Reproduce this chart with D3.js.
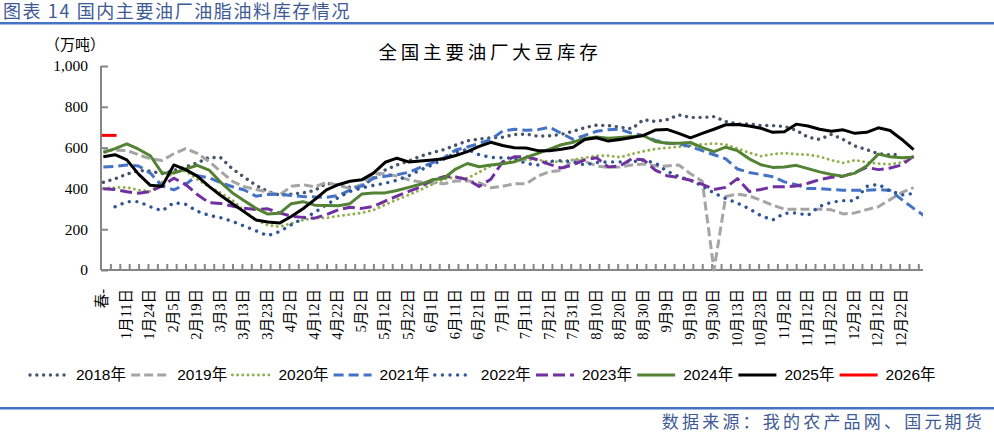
<!DOCTYPE html>
<html>
<head>
<meta charset="utf-8">
<script src="https://cdn.jsdelivr.net/npm/d3@7"></script>
<style>
  body { margin: 0; background: #fff; }
  svg { display: block; }
</style>
</head>
<body>
<script>
// x labels, one every 5 category slots
var categories = ["春-","1月11日","1月24日","2月5日","2月19日","3月3日","3月13日","3月23日","4月2日","4月12日",
  "4月22日","5月2日","5月12日","5月22日","6月1日","6月11日","6月21日","7月1日","7月11日","7月21日",
  "7月31日","8月10日","8月20日","8月30日","9月9日","9月19日","9月30日","10月13日","10月23日","11月2日",
  "11月12日","11月22日","12月2日","12月12日","12月22日"];

var yTicks = [0, 200, 400, 600, 800, 1000];

// values (万吨), one every half label step
var s2018 = [430,447,470,487,485,472,488,505,525,552, 550,495,455,415,385,367,372,378,390,425,
  415,405,410,450,490,515,534,558,575,590, 612,633,642,648,651,664,666,656,658,665,
  680,698,710,708,700,692,737,728,737,760, 748,748,752,728,716,716,708,708,704,685,
  651,640,665,640,608,590,570,565,567,null];
var s2019 = [585,587,586,565,545,537,570,595,572,532, 483,434,408,395,382,367,410,418,408,430,
  415,400,418,470,473,460,442,432,426,423, 436,437,428,403,410,423,423,460,482,488,
  540,533,510,503,505,515,520,510,510,515, 472,435,0,360,372,363,342,318,298,298,
  298,298,295,275,280,296,310,345,380,404];
var s2020 = [400,404,405,392,385,430,480,485,445,408, 378,342,290,246,220,212,228,245,255,255,
  265,272,280,294,320,345,368,393,420,445, 455,449,480,510,525,536,541,540,530,531,
  540,550,560,560,553,568,582,593,599,604, 610,616,620,615,595,575,558,568,573,568,
  565,556,538,525,538,529,521,518,528,555];
var s2021 = [505,508,515,510,475,412,393,420,462,452, 428,408,392,362,370,371,365,360,358,356,
  365,392,412,450,460,467,479,503,525,550, 588,603,620,640,681,690,685,688,700,670,
  640,660,680,688,690,670,660,635,623,618, 605,585,565,545,495,478,468,457,432,418,
  399,399,395,391,391,391,394,390,345,302, 262];
var s2022 = [null,310,335,335,310,290,330,322,288,268, 256,238,215,192,168,188,222,252,282,320,
  355,385,402,415,425,440,462,490,515,545, 575,592,565,552,550,548,522,515,533,536,
  530,515,527,530,530,531,538,525,484,458, 440,412,377,350,328,300,266,245,278,280,
  268,312,332,340,339,410,420,388,368,375];
var s2023 = [398,395,384,376,385,412,450,420,370,330, 326,313,303,296,300,280,264,258,254,272,
  295,308,302,312,338,362,385,407,440,458, 456,443,410,445,530,555,556,540,518,500,
  515,540,550,505,510,545,540,490,462,454, 440,420,395,405,448,385,395,408,408,412,
  425,443,455,460,478,503,492,500,515,558];
var s2024 = [575,595,618,592,560,475,475,495,513,490, 430,378,340,302,274,278,325,335,318,316,
  315,325,372,378,378,390,405,420,442,450, 495,522,506,515,521,530,552,572,592,614,
  626,645,652,646,650,654,658,630,621,621, 625,600,580,602,585,545,516,503,505,513,
  497,481,468,460,475,510,568,555,550,553];
var s2025 = [555,565,540,470,415,410,515,492,460,410, 365,325,285,245,235,230,262,300,345,393,
  418,435,442,475,528,548,530,534,539,545, 561,580,606,626,610,599,598,585,585,592,
  602,640,648,632,640,649,660,686,689,670, 648,670,690,712,713,706,695,675,678,715,
  706,690,680,687,670,675,697,684,640,590];
var s2026 = [660,660];

var series = [
  {name: "2018年", values: s2018, color: "#44546A", width: 3.4, dash: "0.01 6.8", cap: "round"},
  {name: "2019年", values: s2019, color: "#A5A5A5", width: 3, dash: "9 4", cap: "butt"},
  {name: "2020年", values: s2020, color: "#8FB04C", width: 2.9, dash: "0.01 5.2", cap: "round"},
  {name: "2021年", values: s2021, color: "#4472C4", width: 3, dash: "10 5", cap: "butt"},
  {name: "2022年", values: s2022, color: "#2F5597", width: 3.4, dash: "0.01 7.6", cap: "round"},
  {name: "2023年", values: s2023, color: "#7030A0", width: 3, dash: "12 5", cap: "butt"},
  {name: "2024年", values: s2024, color: "#548235", width: 3, dash: null, cap: "butt"},
  {name: "2025年", values: s2025, color: "#000000", width: 3, dash: null, cap: "butt"},
  {name: "2026年", values: s2026, color: "#FF0000", width: 3, dash: null, cap: "square"}
];

var W = 994, H = 433;
var plotL = 101, plotR = 923, plotT = 66, plotB = 270;
var SLOTS = 175, LABEL_STEP = 5, DATA_STEP = 2.5;

var svg = d3.select("body").append("svg")
  .attr("width", W).attr("height", H);

var serif = "'Liberation Serif','Noto Sans CJK SC',serif";
var sans = "'Liberation Sans','Noto Sans CJK SC',sans-serif";
var cjk = "'Noto Sans CJK SC',sans-serif";

// header
svg.append("text").attr("x", 3).attr("y", 17.5)
  .attr("font-family", cjk).attr("font-size", 18).attr("letter-spacing", 1.6).attr("fill", "#3D5A94")
  .text("图表 14 国内主要油厂油脂油料库存情况");
svg.append("rect").attr("x", 0).attr("y", 22).attr("width", W).attr("height", 2.5).attr("fill", "#4472C4");

svg.append("text").attr("x", 490).attr("y", 59).attr("text-anchor", "middle")
  .attr("font-family", cjk).attr("font-size", 18.5).attr("letter-spacing", 3.8).attr("fill", "#000")
  .text("全国主要油厂大豆库存");

svg.append("text").attr("x", 45).attr("y", 50)
  .attr("font-family", cjk).attr("font-size", 15).attr("fill", "#000")
  .text("（万吨）");

var x = d3.scaleLinear().domain([0, SLOTS]).range([plotL, plotR]);
var y = d3.scaleLinear().domain([0, 1000]).range([plotB, plotT]);
var px = function(j) { return x(j * DATA_STEP + 0.5); };

// y axis
var yAxis = svg.append("g").attr("transform", "translate(" + plotL + ",0)")
  .call(d3.axisRight(y).tickValues(yTicks).tickSize(7).tickFormat(""));
yAxis.select(".domain").attr("stroke", "#868686").attr("stroke-width", 2).attr("d", "M0," + plotT + "V" + plotB);
yAxis.selectAll(".tick line").attr("stroke", "#868686").attr("stroke-width", 2);

svg.append("g").selectAll("text").data(yTicks).join("text")
  .attr("x", 88).attr("y", function(d) { return y(d); }).attr("dy", "0.35em")
  .attr("text-anchor", "end").attr("font-family", serif).attr("font-size", 15.5).attr("fill", "#000")
  .text(d3.format(","));

// x axis: ticks every 2 slots
var tickSlots = d3.range(2, SLOTS, 2);
var xAxis = svg.append("g").attr("transform", "translate(0," + plotB + ")")
  .call(d3.axisTop(x).tickValues(tickSlots).tickSize(6).tickFormat(""));
xAxis.select(".domain").attr("stroke", "#868686").attr("stroke-width", 2).attr("d", "M" + plotL + ",0H" + plotR);
xAxis.selectAll(".tick line").attr("stroke", "#868686").attr("stroke-width", 2);

svg.append("g").selectAll("text").data(categories).join("text")
  .attr("transform", function(d, i) { return "translate(" + (x(i * LABEL_STEP + 0.5) - 1) + ",289) rotate(-90)"; })
  .attr("text-anchor", "end").attr("dy", "0.35em")
  .attr("font-family", serif).attr("font-size", 14.5).attr("fill", "#000")
  .text(function(d) { return d; });

// lines
svg.append("clipPath").attr("id", "plot").append("rect")
  .attr("x", plotL).attr("y", plotT - 10).attr("width", plotR - plotL).attr("height", plotB - plotT + 20);

var line = d3.line()
  .defined(function(d) { return d != null; })
  .x(function(d, j) { return px(j); })
  .y(function(d) { return y(d); });

svg.append("g").attr("clip-path", "url(#plot)")
  .selectAll("path").data(series).join("path")
  .attr("d", function(s) { return line(s.values); })
  .attr("fill", "none")
  .attr("stroke", function(s) { return s.color; })
  .attr("stroke-width", function(s) { return s.width; })
  .attr("stroke-dasharray", function(s) { return s.dash; })
  .attr("stroke-linecap", function(s) { return s.cap; })
  .attr("stroke-linejoin", "round");

// legend
var legend = svg.append("g").selectAll("g").data(series).join("g")
  .attr("transform", function(d, i) { return "translate(" + (30 + i * 101.2) + ",375)"; });
legend.append("line").attr("x1", 0).attr("x2", 38).attr("y1", 0).attr("y2", 0)
  .attr("stroke", function(s) { return s.color; })
  .attr("stroke-width", function(s) { return s.width; })
  .attr("stroke-dasharray", function(s) { return s.dash; })
  .attr("stroke-linecap", function(s) { return s.cap === "square" ? "butt" : s.cap; });
legend.append("text").attr("x", 46).attr("dy", "0.35em")
  .attr("font-family", sans).attr("font-size", 15.5).attr("fill", "#000")
  .text(function(s) { return s.name; });

// footer
svg.append("rect").attr("x", 0).attr("y", 407).attr("width", W).attr("height", 2.5).attr("fill", "#4472C4");
svg.append("text").attr("x", 985).attr("y", 428).attr("text-anchor", "end")
  .attr("font-family", cjk).attr("font-size", 17).attr("letter-spacing", 3.2).attr("fill", "#3D5A94")
  .text("数据来源：我的农产品网、国元期货");
</script>
</body>
</html>
